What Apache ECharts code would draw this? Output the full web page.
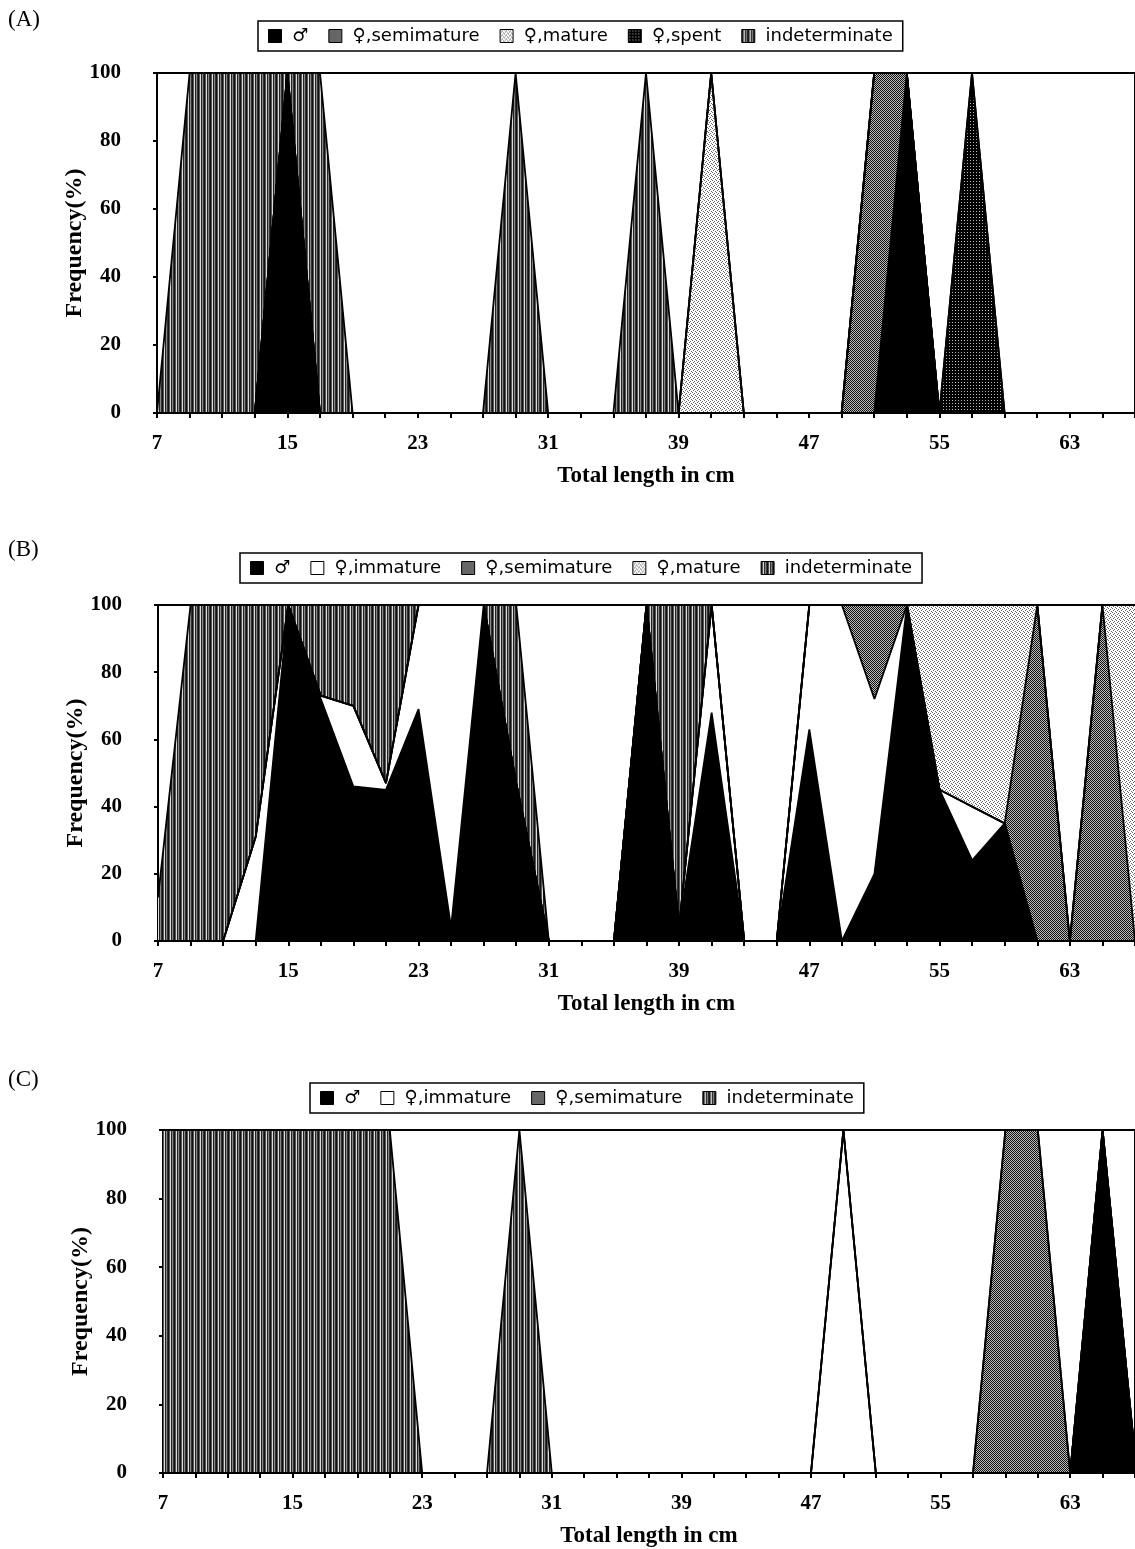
<!DOCTYPE html>
<html>
<head>
<meta charset="UTF-8">
<title>Frequency by total length</title>
<script src="https://cdn.jsdelivr.net/npm/echarts@6.0.0/dist/echarts.min.js"></script>
<style>
  body { margin: 0; background: #fff; }
  #chart { width: 1135px; height: 1549px; }
</style>
</head>
<body>
<div id="chart"></div>
<script>
// total length classes (cm)
var lengths = ['7','9','11','13','15','17','19','21','23','25','27','29','31','33','35','37',
               '39','41','43','45','47','49','51','53','55','57','59','61','63','65','67'];
var yTicks = [0, 20, 40, 60, 80, 100];

// (A)
var aMale     = [0,0,0,0,100,0,0,0,0,0,0,0,0,0,0,0,0,0,0,0,0,0,0,100,0,0,0,0,0,0,0];
var aSemi     = [0,0,0,0,0,0,0,0,0,0,0,0,0,0,0,0,0,0,0,0,0,0,100,0,0,0,0,0,0,0,0];
var aMature   = [0,0,0,0,0,0,0,0,0,0,0,0,0,0,0,0,0,100,0,0,0,0,0,0,0,0,0,0,0,0,0];
var aSpent    = [0,0,0,0,0,0,0,0,0,0,0,0,0,0,0,0,0,0,0,0,0,0,0,0,0,100,0,0,0,0,0];
var aIndet    = [0,100,100,100,0,100,0,0,0,0,0,100,0,0,0,100,0,0,0,0,0,0,0,0,0,0,0,0,0,0,0];

// (B)
var bMale     = [0,0,0,0,100,72,46,45,69,4,100,47,0,0,0,100,4,68,0,0,63,0,20,100,45,24,35,0,0,0,0];
var bImm      = [0,0,0,31,0,1,24,2,31,96,0,0,0,0,0,0,0,32,0,0,37,100,52,0,0,16,0,0,0,0,0];
var bSemi     = [0,0,0,0,0,0,0,0,0,0,0,0,0,0,0,0,0,0,0,0,0,0,28,0,0,0,0,100,0,100,0];
var bMature   = [0,0,0,0,0,0,0,0,0,0,0,0,0,0,0,0,0,0,0,0,0,0,0,0,55,60,65,0,0,0,100];
var bIndet    = [13,100,100,69,0,27,30,53,0,0,0,53,0,0,0,0,96,0,0,0,0,0,0,0,0,0,0,0,0,0,0];

// (C)
var cMale     = [0,0,0,0,0,0,0,0,0,0,0,0,0,0,0,0,0,0,0,0,0,0,0,0,0,0,0,0,0,100,5];
var cImm      = [0,0,0,0,0,0,0,0,0,0,0,0,0,0,0,0,0,0,0,0,0,100,0,0,0,0,0,0,0,0,0];
var cSemi     = [0,0,0,0,0,0,0,0,0,0,0,0,0,0,0,0,0,0,0,0,0,0,0,0,0,0,100,100,0,0,0];
var cIndet    = [100,100,100,100,100,100,100,100,0,0,0,100,0,0,0,0,0,0,0,0,0,0,0,0,0,0,0,0,0,0,0];

// fill patterns (like the old excel hatch fills)
function makePattern(w, h, pixels) {
  var c = document.createElement('canvas');
  c.width = w; c.height = h;
  var g = c.getContext('2d');
  for (var i = 0; i < pixels.length; i++) {
    g.fillStyle = pixels[i];
    g.fillRect(i % w, Math.floor(i / w), 1, 1);
  }
  return { image: c, repeat: 'repeat' };
}
var fillMale = '#000';
var fillImm = '#fff';
var fillIndet = makePattern(6, 1, ['#111','#555','#ddd','#222','#888','#333']);
var fillSemi = makePattern(2, 2, ['#111','#bbb','#bbb','#111']);
var fillMature = makePattern(4, 4, ['#666','#fff','#fff','#fff',
                                    '#fff','#fff','#666','#fff',
                                    '#fff','#666','#fff','#fff',
                                    '#fff','#fff','#fff','#666']);
var fillSpent = makePattern(3, 3, ['#000','#000','#000','#000','#bbb','#000','#000','#000','#000']);

var serif = 'Liberation Serif';

function area(name, data, fill, panel) {
  return {
    name: name,
    type: 'line',
    stack: 'p' + panel,
    xAxisIndex: panel,
    yAxisIndex: panel,
    data: data,
    symbol: 'none',
    lineStyle: { color: '#000', width: 1.8 },
    itemStyle: { color: fill, borderColor: '#000', borderWidth: 1 },
    areaStyle: { color: fill, opacity: 1 }
  };
}

function xAxisFor(i) {
  return {
    type: 'category', gridIndex: i, data: lengths, boundaryGap: false,
    name: 'Total length in cm', nameLocation: 'middle', nameGap: 52,
    nameTextStyle: { fontFamily: serif, fontWeight: 'bold', fontSize: 23, color: '#000' },
    axisLine: { lineStyle: { color: '#000', width: 2 } },
    axisTick: { interval: 0, length: 5, lineStyle: { color: '#000', width: 2 } },
    axisLabel: { interval: 3, margin: 20, fontFamily: serif, fontWeight: 'bold', fontSize: 21, color: '#000' },
    splitLine: { show: false }
  };
}
function yAxisFor(i) {
  return {
    type: 'value', gridIndex: i, min: yTicks[0], max: yTicks[yTicks.length - 1], interval: 20,
    name: 'Frequency(%)', nameLocation: 'middle', nameGap: 70, nameMoveOverlap: false,
    nameTextStyle: { fontFamily: serif, fontWeight: 'bold', fontSize: 24, color: '#000' },
    axisLine: { show: true, lineStyle: { color: '#000', width: 2 } },
    axisTick: { show: true, length: 4, lineStyle: { color: '#000', width: 2 } },
    axisLabel: { margin: 36, fontFamily: serif, fontWeight: 'bold', fontSize: 21, color: '#000' },
    splitLine: { show: false }
  };
}
function legendFor(names, left, top) {
  return {
    data: names, left: left, top: top, orient: 'horizontal',
    icon: 'rect', itemWidth: 13, itemHeight: 13, itemGap: 20,
    formatter: ' {name}',
    padding: [6, 10], borderColor: '#000', borderWidth: 1.5,
    selectedMode: false,
    textStyle: { fontFamily: 'DejaVu Sans', fontSize: 18, color: '#000' },
    itemStyle: { borderColor: '#000', borderWidth: 1 }
  };
}

var chart = echarts.init(document.getElementById('chart'));
chart.setOption({
  animation: false,
  backgroundColor: '#fff',
  grid: [
    { left: 157, top: 73, right: -2, height: 340, show: true, borderColor: '#000', borderWidth: 2 },
    { left: 158, top: 605, right: -3, height: 336, show: true, borderColor: '#000', borderWidth: 2 },
    { left: 163, top: 1130, right: 0, height: 345, show: true, borderColor: '#000', borderWidth: 2 }
  ],
  xAxis: [xAxisFor(0), xAxisFor(1), xAxisFor(2)],
  yAxis: [yAxisFor(0), yAxisFor(1), yAxisFor(2)],
  legend: [
    legendFor(['♂', '♀,semimature', '♀,mature', '♀,spent', 'indeterminate'], 258, 21),
    legendFor(['♂', '♀,immature', '♀,semimature', '♀,mature', 'indeterminate'], 240, 553),
    legendFor(['♂', '♀,immature', '♀,semimature', 'indeterminate'], 310, 1083)
  ],
  graphic: [
    { type: 'text', left: 8, top: 8, style: { text: '(A)', font: '23px "Liberation Serif"', fill: '#000' } },
    { type: 'text', left: 8, top: 538, style: { text: '(B)', font: '23px "Liberation Serif"', fill: '#000' } },
    { type: 'text', left: 8, top: 1068, style: { text: '(C)', font: '23px "Liberation Serif"', fill: '#000' } }
  ],
  series: [
    area('♂', aMale, fillMale, 0),
    area('♀,semimature', aSemi, fillSemi, 0),
    area('♀,mature', aMature, fillMature, 0),
    area('♀,spent', aSpent, fillSpent, 0),
    area('indeterminate', aIndet, fillIndet, 0),

    area('♂', bMale, fillMale, 1),
    area('♀,immature', bImm, fillImm, 1),
    area('♀,semimature', bSemi, fillSemi, 1),
    area('♀,mature', bMature, fillMature, 1),
    area('indeterminate', bIndet, fillIndet, 1),

    area('♂', cMale, fillMale, 2),
    area('♀,immature', cImm, fillImm, 2),
    area('♀,semimature', cSemi, fillSemi, 2),
    area('indeterminate', cIndet, fillIndet, 2)
  ]
});
</script>
</body>
</html>
